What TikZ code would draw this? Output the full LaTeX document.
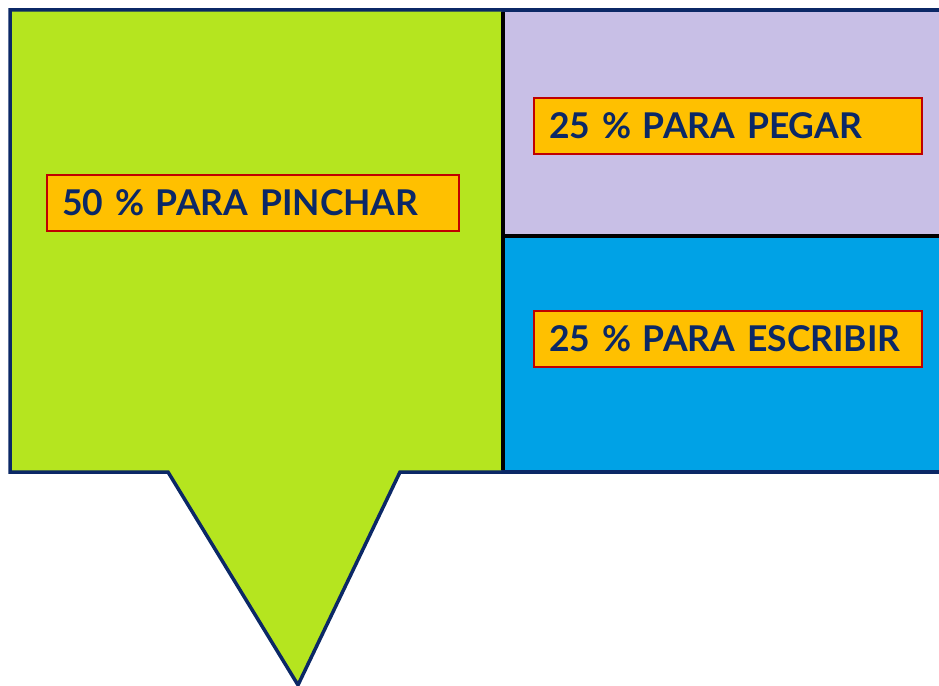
\documentclass[tikz,border=0pt]{standalone}
\usepackage{fontspec}
\setmainfont{Lato}
\usepackage{tikz}
\usepackage{xcolor}
\usetikzlibrary{positioning}
\definecolor{verde}{HTML}{B5E51F}
\definecolor{lila}{HTML}{C8BFE6}
\definecolor{celeste}{HTML}{00A2E6}
\definecolor{naranja}{HTML}{FFC000}
\definecolor{rojo}{HTML}{C00000}
\definecolor{marino}{HTML}{0B2866}
\tikzstyle{zona}=[draw=marino,line width=3.5pt,line join=miter]
\tikzstyle{etiqueta}=[draw=rojo,fill=naranja,line width=2pt,anchor=north west,inner xsep=15pt,minimum height=56pt,align=left,text=marino,font=\fontsize{35.5}{40}\selectfont\bfseries]

\begin{document}
\begin{tikzpicture}[x=1pt,y=-1pt]
    \useasboundingbox (0,0) rectangle (939,685);
    \clip (0,0) rectangle (939,685);
    % zonas
    \draw[zona, fill=lila] (503,10) rectangle (960,236);
    \draw[zona, fill=celeste] (503,236) rectangle (960,472);
    \draw[zona, fill=verde] (10,10) -- (503,10) -- (503,472) -- (400,472) -- (298,685) -- (168,472) -- (10,472) -- cycle;
    \draw[line width=3.5pt, black] (503,11.75) -- (503,470.25);
    \draw[line width=3.5pt, black] (504.75,236) -- (960,236);
    % etiquetas
    \node[etiqueta, text width=382pt] (pinchar) at (46,174) {50 \% PARA PINCHAR};
    \node[etiqueta, text width=358pt] (pegar) at (533,97) {25 \% PARA PEGAR};
    \node[etiqueta, text width=358pt] (escribir) at (533,310) {25 \% PARA ESCRIBIR};
\end{tikzpicture}
\end{document}
